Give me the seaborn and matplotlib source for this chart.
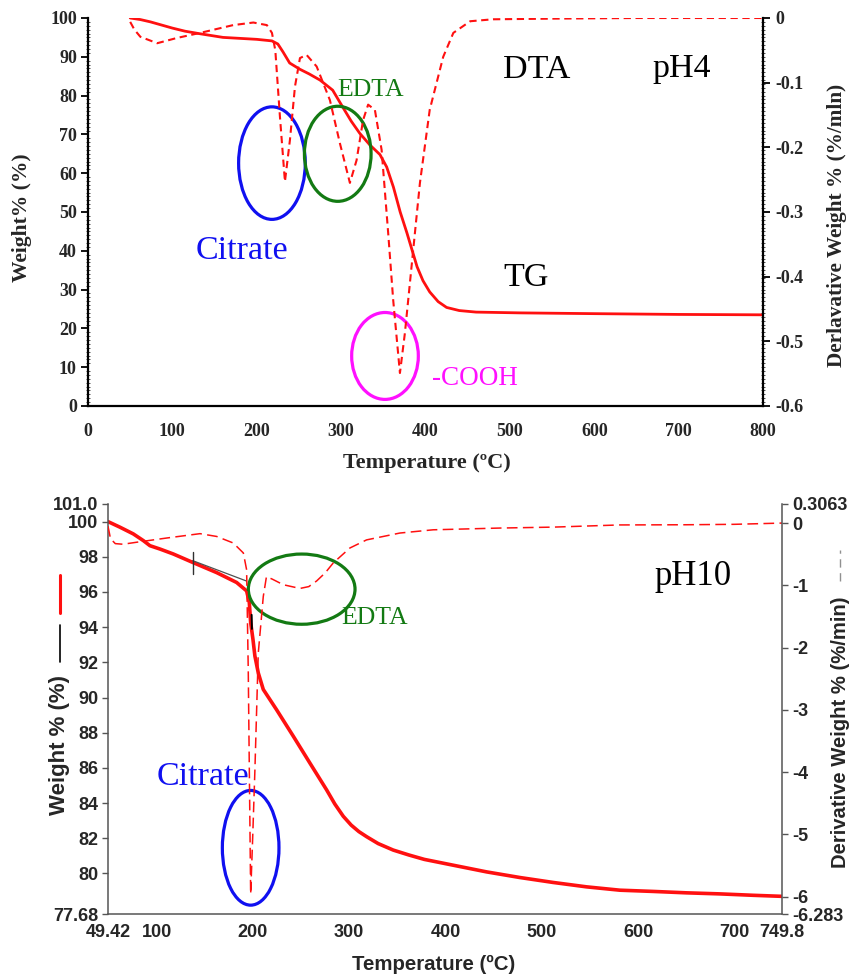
import numpy as np
import pandas as pd
import matplotlib
matplotlib.use("Agg")
import matplotlib.pyplot as plt
from matplotlib.patches import Ellipse
from matplotlib.lines import Line2D
from matplotlib.ticker import MultipleLocator
import seaborn as sns

# ---------------- data: pH4 (top panel) ----------------
tg4_T = [50, 62, 74, 87, 100, 115, 131, 160, 200, 218, 225, 231, 239, 251, 262,
         275, 290, 302, 312, 322, 334, 346, 354, 362, 370, 378, 390, 397, 405,
         415, 425, 440, 460, 512, 600, 700, 800]
tg4_W = [100, 99.6, 99.0, 98.2, 97.4, 96.6, 96.0, 95.0, 94.5, 94.1, 93.3, 91.3,
         88.4, 86.8, 85.6, 84.0, 81.4, 77.0, 73.4, 70.3, 67.3, 64.8, 61.6, 56.4,
         50.0, 44.6, 35.9, 32.3, 29.4, 26.9, 25.4, 24.6, 24.2, 24.0, 23.8, 23.6,
         23.5]

dta4_T = [50, 55, 62, 82, 105, 133, 172, 196, 212, 218, 222, 227.5, 233.4, 239.3,
          245.3, 251.2, 259, 271, 286.7, 298.6, 310.4, 318.3, 326, 332, 340, 348,
          355.8, 361.7, 369.7, 375.6, 381.5, 393.4, 405, 421, 433, 453, 480, 550,
          650, 800]
dta4_D = [-0.006, -0.018, -0.029, -0.039, -0.031, -0.023, -0.011, -0.007, -0.011,
          -0.023, -0.05, -0.153, -0.253, -0.189, -0.106, -0.062, -0.057, -0.075,
          -0.127, -0.194, -0.255, -0.22, -0.158, -0.134, -0.142, -0.204, -0.333,
          -0.436, -0.549, -0.487, -0.41, -0.255, -0.142, -0.06, -0.023, -0.005,
          -0.002, -0.001, 0.0, 0.0]

# ---------------- data: pH10 (bottom panel) ----------------
tg10_T = [49.42, 61.9, 75.7, 86.1, 93, 103.4, 117.2, 137.4, 162.3, 183, 193.4,
          196.2, 197.6, 200, 202, 205.5, 210.7, 224.6, 241.9, 259.2, 276.5, 285,
          293.8, 302, 310, 318.1, 330, 345.7, 362, 378, 408, 442.7, 477.3, 511.8,
          546.5, 581.1, 615.7, 650.3, 685, 719.5, 749.8]
tg10_W = [100, 99.68, 99.3, 98.92, 98.63, 98.44, 98.16, 97.68, 97.1, 96.54, 96.06,
          95.4, 94.26, 93.3, 92.36, 91.4, 90.46, 89.3, 87.8, 86.27, 84.75, 83.95,
          83.25, 82.75, 82.38, 82.09, 81.7, 81.33, 81.05, 80.8, 80.47, 80.09, 79.77,
          79.49, 79.24, 79.05, 78.98, 78.9, 78.84, 78.76, 78.7]

dtg10_T = [49.42, 52, 57, 65, 82.6, 110.4, 145, 162.3, 179.5, 190, 193.4, 195.1,
           197.6, 199.7, 202, 205.5, 210.7, 214, 220, 231.5, 248.8, 258, 266.1,
           275, 283.4, 300.7, 318, 352.6, 387.2, 456.5, 511.8, 581, 650, 700,
           749.8]
dtg10_D = [-0.05, -0.25, -0.33, -0.34, -0.30, -0.24, -0.17, -0.215, -0.32, -0.48,
           -0.75, -2.36, -5.96, -5.05, -3.97, -2.09, -1.18, -0.86, -0.9, -0.99,
           -1.05, -1.02, -0.93, -0.8, -0.64, -0.40, -0.27, -0.16, -0.108, -0.08,
           -0.065, -0.03, -0.027, -0.02, 0.0]

# tick values
top_xticks = [0, 100, 200, 300, 400, 500, 600, 700, 800]
top_yticks = [0, 10, 20, 30, 40, 50, 60, 70, 80, 90, 100]
top_rticks = [-0.6, -0.5, -0.4, -0.3, -0.2, -0.1, 0]
top_rlabels = ["-0.6", "-0.5", "-0.4", "-0.3", "-0.2", "-0.1", "0"]

bot_xticks = [49.42, 100, 200, 300, 400, 500, 600, 700, 749.8]
bot_xlabels = ["49.42", "100", "200", "300", "400", "500", "600", "700", "749.8"]
bot_yticks = [77.68, 80, 82, 84, 86, 88, 90, 92, 94, 96, 98, 100, 101.0]
bot_ylabels = ["77.68", "80", "82", "84", "86", "88", "90", "92", "94", "96", "98",
               "100", "101.0"]
bot_rticks = [-6.283, -6, -5, -4, -3, -2, -1, 0, 0.3063]
bot_rlabels = ["-6.283", "-6", "-5", "-4", "-3", "-2", "-1", "0", "0.3063"]

# ---------------- styling ----------------
sns.set_style("white")
plt.rcParams["font.family"] = ["Liberation Serif", "DejaVu Sans"]

RED = "#ff1010"
BLUE = "#1010f0"
GREEN = "#137a13"
MAG = "#ff10ff"
SERIF = "Liberation Serif"
SANS = "Liberation Sans"

W_PX, H_PX = 849, 977
fig = plt.figure(figsize=(W_PX / 100, H_PX / 100), dpi=100)


def frac_rect(l, t, r, b):
    return [l / W_PX, 1 - b / H_PX, (r - l) / W_PX, (b - t) / H_PX]


# ================= TOP PANEL =================
ax1 = fig.add_axes(frac_rect(88, 18, 763, 406))
ax1b = ax1.twinx()

sns.lineplot(x=tg4_T, y=tg4_W, ax=ax1, color=RED, lw=2.0, sort=False,
             estimator=None, legend=False)
sns.lineplot(x=dta4_T, y=dta4_D, ax=ax1b, color=RED, lw=1.5, sort=False,
             estimator=None, legend=False, dashes=False, linestyle=(0, (3.5, 2.2)))

ax1.set_xlim(0, 800)
ax1.set_ylim(0, 100)
ax1b.set_ylim(-0.6, 0)

tkw_top = dict(fontfamily=SERIF, fontweight="bold", fontsize=13)
ax1.set_xticks(top_xticks, [str(v) for v in top_xticks], **tkw_top)
ax1.set_yticks(top_yticks, [str(v) for v in top_yticks], **tkw_top)
ax1b.set_yticks(top_rticks, top_rlabels, **tkw_top)

for a in (ax1, ax1b):
    for s in a.spines.values():
        s.set_color("black")
        s.set_linewidth(1.6)
    a.spines["top"].set_visible(False)
ax1.spines["right"].set_visible(False)
ax1b.spines["left"].set_visible(False)
ax1b.spines["bottom"].set_visible(False)

ax1.tick_params(axis="x", which="major", direction="out", length=5, width=1.3,
                color="black", pad=7)
ax1.tick_params(axis="y", which="major", direction="out", length=5, width=1.3,
                color="black", pad=3)
ax1b.tick_params(axis="y", which="major", direction="out", length=5, width=1.3,
                 color="black", pad=4)
ax1.xaxis.set_minor_locator(MultipleLocator(4))
ax1.yaxis.set_minor_locator(MultipleLocator(1))
ax1b.yaxis.set_minor_locator(MultipleLocator(0.006))
ax1.tick_params(which="minor", direction="inout", length=2.5, width=0.6, color="#333")
ax1b.tick_params(which="minor", direction="inout", length=2.5, width=0.6, color="#333")

ax1.set_xlabel("Temperature (ºC)", fontfamily=SERIF, fontweight="bold", fontsize=16)
ax1.xaxis.set_label_coords(0.502, -0.122)
ax1.set_ylabel("Weight% (%)", fontfamily=SERIF, fontweight="bold", fontsize=15.5)
ax1.yaxis.set_label_coords(-0.098, 0.4845)
ax1.yaxis.label.set_verticalalignment("center")
ax1b.set_ylabel("Derlavative Weight % (%/mln)", fontfamily=SERIF,
                fontweight="bold", fontsize=15.3)
ax1b.yaxis.set_label_coords(1.11, 0.4665)
ax1b.yaxis.label.set_verticalalignment("center")
ax1b.yaxis.label.set_rotation(90)

# annotations top
for (cx, cy, w, h, c) in [(218, 62.6, 79, 29, BLUE), (296, 65, 79, 24.5, GREEN),
                          (352, 12.9, 79, 22.4, MAG)]:
    ax1.add_patch(Ellipse((cx, cy), w, h, fill=False, ec=c, lw=2.3, zorder=5))

ax1.text(127, 37.8, "Citrate", color=BLUE, fontfamily=SERIF, fontsize=24.5,
         va="baseline", ha="left")
ax1.text(295, 79.9, "EDTA", color=GREEN, fontfamily=SERIF, fontsize=18.5,
         va="baseline", ha="left")
ax1.text(492, 84.5, "DTA", color="black", fontfamily=SERIF, fontsize=24.5,
         va="baseline", ha="left")
ax1.text(669, 84.7, "pH4", color="black", fontfamily=SERIF, fontsize=24.5,
         va="baseline", ha="left")
ax1.text(492, 30.9, "TG", color="black", fontfamily=SERIF, fontsize=24.5,
         va="baseline", ha="left")
ax1.text(408, 5.4, "-COOH", color=MAG, fontfamily=SERIF, fontsize=19.5,
         va="baseline", ha="left")

# ================= BOTTOM PANEL =================
ax2 = fig.add_axes(frac_rect(108, 504, 782.3, 914.3))
ax2b = ax2.twinx()

sns.lineplot(x=tg10_T, y=tg10_W, ax=ax2, color=RED, lw=2.6, sort=False,
             estimator=None, legend=False)
sns.lineplot(x=dtg10_T, y=dtg10_D, ax=ax2b, color=RED, lw=1.1, sort=False,
             estimator=None, legend=False, dashes=False, linestyle=(0, (7, 3.5)))

# analysis marks (tangent / step markers)
ax2.plot([137.4, 193.4], [97.78, 96.62], color="#505050", lw=0.9, zorder=4)
ax2.plot([137.4, 137.4], [97.02, 98.29], color="#303030", lw=1.0, zorder=4)
ax2.plot([198.6, 198.9], [94.7, 93.9], color="black", lw=1.4, zorder=4)

ax2.set_xlim(49.42, 749.8)
ax2.set_ylim(77.68, 101.0)
ax2b.set_ylim(-6.283, 0.3063)

tkw_bot = dict(fontfamily=SANS, fontweight="bold", fontsize=13)
ax2.set_xticks(bot_xticks, bot_xlabels, **tkw_bot)
ax2.set_yticks(bot_yticks, bot_ylabels, **tkw_bot)
ax2b.set_yticks(bot_rticks, bot_rlabels, **tkw_bot)

for a in (ax2, ax2b):
    for s in a.spines.values():
        s.set_color("#555555")
        s.set_linewidth(1.1)
    a.spines["top"].set_visible(False)
ax2.spines["right"].set_visible(False)
ax2b.spines["left"].set_visible(False)
ax2b.spines["bottom"].set_visible(False)

ax2.tick_params(axis="both", direction="out", length=4, width=1.0,
                color="#555555", pad=3)
ax2b.tick_params(axis="y", direction="out", length=4, width=1.0,
                 color="#555555", pad=3)

ax2.set_xlabel("Temperature (ºC)", fontfamily=SANS, fontweight="bold", fontsize=14.7)
ax2.xaxis.set_label_coords(0.483, -0.1)
ax2.set_ylabel("Weight % (%)", fontfamily=SANS, fontweight="bold", fontsize=16)
ax2.yaxis.set_label_coords(-0.0712, 0.4126)
ax2.yaxis.label.set_verticalalignment("center")
ax2b.set_ylabel("Derivative Weight % (%/min)", fontfamily=SANS, fontweight="bold",
                fontsize=14.6)
ax2b.yaxis.set_label_coords(1.0856, 0.444)
ax2b.yaxis.label.set_verticalalignment("center")
ax2b.yaxis.label.set_rotation(90)

# legend-like line samples next to the axis labels
ax2.add_line(Line2D([-0.0712, -0.0712], [0.734, 0.827], transform=ax2.transAxes,
                    color=RED, lw=2.2, clip_on=False))
ax2.add_line(Line2D([-0.0712, -0.0712], [0.615, 0.705], transform=ax2.transAxes,
                    color="black", lw=1.2, clip_on=False))
ax2.add_line(Line2D([1.0856, 1.0856], [0.813, 0.887], transform=ax2.transAxes,
                    color="#909090", lw=1.0, ls=(0, (6, 4)), clip_on=False))

# annotations bottom
ax2.add_patch(Ellipse((250.6, 96.16), 110.8, 3.99, fill=False, ec=GREEN, lw=2.3,
                      zorder=5))
ax2.add_patch(Ellipse((197.6, 81.46), 58.8, 6.52, fill=False, ec=BLUE, lw=2.3,
                      zorder=5))
ax2.text(100.3, 85.04, "Citrate", color=BLUE, fontfamily=SERIF, fontsize=24.5,
         va="baseline", ha="left")
ax2.text(292.1, 94.16, "EDTA", color=GREEN, fontfamily=SERIF, fontsize=18.5,
         va="baseline", ha="left")
ax2.text(617.4, 96.42, "pH10", color="black", fontfamily=SERIF, fontsize=25,
         va="baseline", ha="left")

fig.savefig("out.png", dpi=100)
